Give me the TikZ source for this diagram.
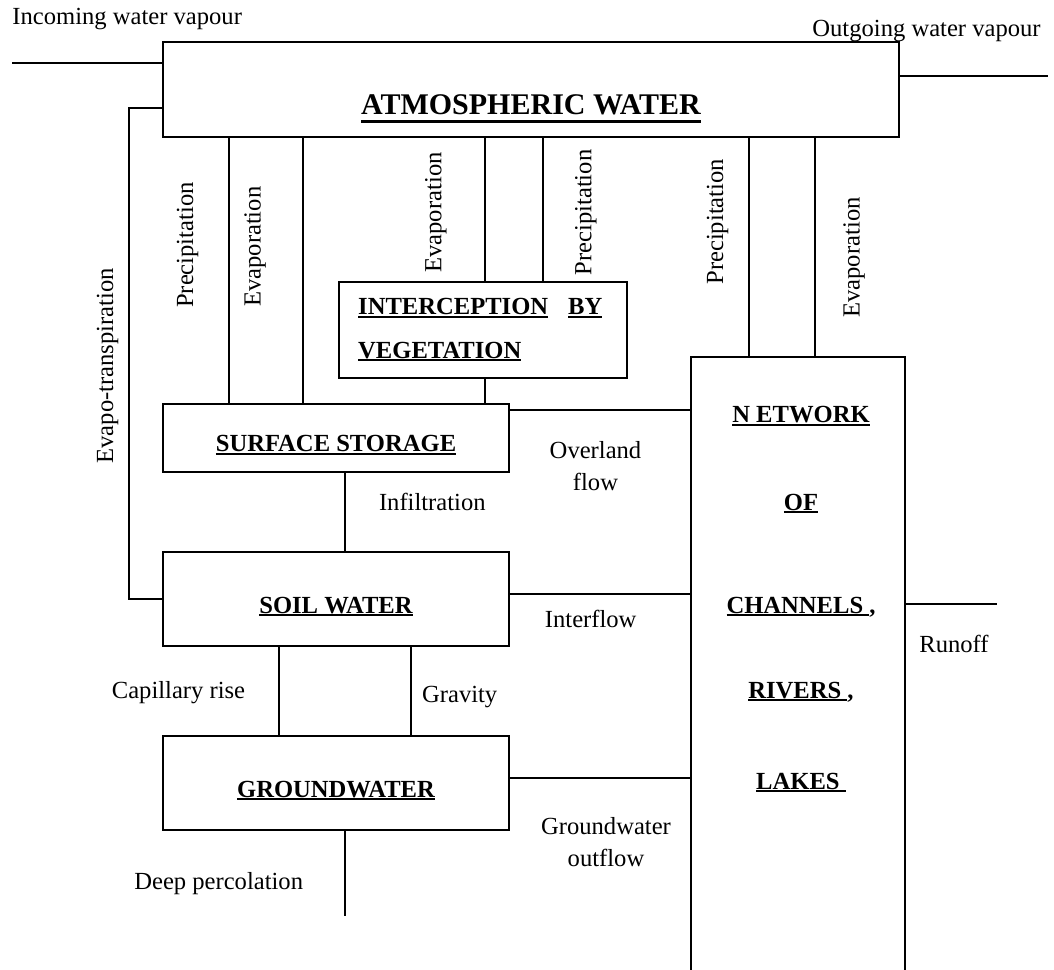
\documentclass[tikz,border=0pt]{standalone}
\usepackage{fontspec}
\setmainfont{Liberation Serif}
\usepackage{tikz}
\newcommand{\lblfont}{\fontsize{12.3}{15}\selectfont}
\newcommand{\boxfont}{\bfseries\fontsize{12.3}{15}\selectfont}
\newcommand{\atmfont}{\bfseries\fontsize{15}{18}\selectfont}
\newcommand{\ulbox}[1]{\leavevmode\setbox0\hbox{#1}\rlap{\rule[-1.4pt]{\wd0}{0.9pt}}\box0}
\newcommand{\ulbig}[1]{\leavevmode\setbox0\hbox{#1}\rlap{\rule[-4pt]{\wd0}{1.6pt}}\box0}

\begin{document}
\begin{tikzpicture}[x=0.5pt,y=-0.5pt,
  box/.style={draw,line width=1pt,inner sep=0pt,font=\boxfont,text height=14pt,text depth=0pt},
  lbl/.style={font=\lblfont,inner sep=0pt},
  vlbl/.style={lbl,rotate=90},
  twolbl/.style={lbl,align=center,font=\fontsize{12.3}{16}\selectfont},
  netlbl/.style={font=\boxfont,inner sep=0pt,anchor=base},
  link/.style={line width=1pt}]
  \useasboundingbox (0,0) rectangle (1054,969);
  \clip (0,0) rectangle (1054,969);

  \node[box,minimum width=368.15pt,minimum height=47.5pt,font=\atmfont,text height=25.4pt] (atm) at (531,89.5) {\ulbig{ATMOSPHERIC WATER}};
  \node[draw,line width=1pt,align=left,text width=125pt,minimum width=144.15pt,minimum height=48.15pt,
        font=\bfseries\fontsize{12.3}{21.7}\selectfont] (icp) at (483.2,329.9)
        {\ulbox{INTERCEPTION}\hspace{10pt}\ulbox{BY}\\\ulbox{VEGETATION}};
  \node[box,minimum width=173.3pt,minimum height=33.85pt] (sur) at (336,437.9) {\ulbox{SURFACE STORAGE}};
  \node[box,minimum width=173.3pt,minimum height=47pt] (soil) at (336,599) {\ulbox{SOIL WATER}};
  \node[box,minimum width=173.3pt,minimum height=47pt] (gw) at (336,783) {\ulbox{GROUNDWATER}};
  \node[box,minimum width=107.15pt,minimum height=330pt,anchor=north] (net) at (797.9,355.7) {};

  \node[netlbl] (net1) at (801,422.7) {\ulbox{N ETWORK}};
  \node[netlbl] (net2) at (801,510) {\ulbox{OF}};
  \node[netlbl] (net3) at (801,613.3) {\ulbox{CHANNELS\ },};
  \node[netlbl] (net4) at (801,698.3) {\ulbox{RIVERS\ },};
  \node[netlbl] (net5) at (801,789.3) {\ulbox{LAKES\ }};

  \node[lbl,anchor=base west] (inlbl) at (12,25) {Incoming water vapour};
  \node[lbl,anchor=base west] (outlbl) at (812,36) {Outgoing water vapour};
  \node[vlbl] (etlbl) at (107.5,365.8) {Evapo-transpiration};
  \node[vlbl] (pr1) at (187.5,245) {Precipitation};
  \node[vlbl] (ev1) at (255,246.7) {Evaporation};
  \node[vlbl] (ev2) at (435.8,212.5) {Evaporation};
  \node[vlbl] (pr2) at (585.8,212.5) {Precipitation};
  \node[vlbl] (pr3) at (717.5,221.7) {Precipitation};
  \node[vlbl] (ev3) at (854,257.5) {Evaporation};
  \node[twolbl] (ovlbl) at (595.5,466) {Overland\\flow};
  \node[lbl,anchor=base east] (inflbl) at (486,510) {Infiltration};
  \node[lbl,anchor=base] (intlbl) at (590.7,627.5) {Interflow};
  \node[lbl,anchor=base] (caplbl) at (178.5,698) {Capillary rise};
  \node[lbl,anchor=base] (grvlbl) at (459.7,702) {Gravity};
  \node[twolbl] (gwolbl) at (606,842) {Groundwater\\outflow};
  \node[lbl,anchor=base] (roflbl) at (954,652.7) {Runoff};
  \node[lbl,anchor=base] (dplbl) at (218.7,889) {Deep percolation};

  \coordinate (inc) at (12,63.3);
  \coordinate (outg) at (1048,75.7);
  \coordinate (roff) at (997,603.7);
  \coordinate (dp) at (345,916);

  \draw[link] (inc) -- (inc -| atm.west);
  \draw[link] (atm.east |- outg) -- (outg);
  \draw[link] (atm.west |- 0,107.7) -| (129,0 |- soil.west) -- (soil.west);
  \draw[link] (229,0 |- atm.south) -- (229,0 |- sur.north);
  \draw[link] (303,0 |- atm.south) -- (303,0 |- sur.north);
  \draw[link] (484.7,0 |- atm.south) -- (484.7,0 |- icp.north);
  \draw[link] (543.3,0 |- atm.south) -- (543.3,0 |- icp.north);
  \draw[link] (484.7,0 |- icp.south) -- (484.7,0 |- sur.north);
  \draw[link] (749,0 |- atm.south) -- (749,0 |- net.north);
  \draw[link] (814.7,0 |- atm.south) -- (814.7,0 |- net.north);
  \draw[link] (sur.east |- 0,410) -- (net.west |- 0,410);
  \draw[link] (345,0 |- sur.south) -- (345,0 |- soil.north);
  \draw[link] (soil.east |- 0,593.7) -- (net.west |- 0,593.7);
  \draw[link] (279.3,0 |- soil.south) -- (279.3,0 |- gw.north);
  \draw[link] (411,0 |- soil.south) -- (411,0 |- gw.north);
  \draw[link] (gw.east |- 0,778) -- (net.west |- 0,778);
  \draw[link] (345,0 |- gw.south) -- (dp);
  \draw[link] (net.east |- roff) -- (roff);
\end{tikzpicture}
\end{document}
